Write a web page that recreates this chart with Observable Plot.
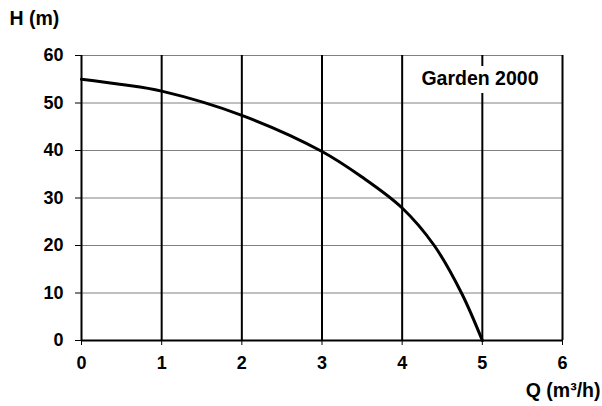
<!DOCTYPE html>
<html>
<head>
<meta charset="utf-8">
<script src="https://cdn.jsdelivr.net/npm/d3@7"></script>
<script src="https://cdn.jsdelivr.net/npm/@observablehq/plot@0.6"></script>
<style>
  html, body { margin: 0; padding: 0; background: #fff; }
</style>
</head>
<body>
<div id="chart"></div>
<script>
const flowQ = [0, 0.5, 1, 2, 3, 3.5, 4, 4.4, 4.74, 5];
const headH = [55, 53.9, 52.5, 47.4, 39.8, 34.4, 27.9, 20, 10, 0];
const xTicks = [0, 1, 2, 3, 4, 5, 6];
const yTicks = [0, 10, 20, 30, 40, 50, 60];
const modelName = "Garden 2000";
const yTitle = "H (m)";
const xTitle = "Q (m³/h)";

const curve = flowQ.map((q, i) => ({q, h: headH[i]}));
const font = "'Liberation Sans', Arial, sans-serif";

const chart = Plot.plot({
  width: 602,
  height: 406,
  marginLeft: 81,
  marginRight: 40,
  marginTop: 55,
  marginBottom: 66,
  style: {fontFamily: font, fontWeight: "bold", fontSize: "18px", color: "#000", background: "#fff"},
  x: {domain: [0, 6], ticks: xTicks},
  y: {domain: [0, 60], ticks: yTicks},
  marks: [
    Plot.ruleY(yTicks.filter(d => d > 0), {stroke: "#808080", strokeWidth: 1}),
    Plot.ruleX(xTicks.filter(d => d > 0), {stroke: "#000", strokeWidth: 2}),
    Plot.ruleX([0], {stroke: "#000", strokeWidth: 2}),
    Plot.ruleY([0], {stroke: "#000", strokeWidth: 2}),
    Plot.axisY({ticks: yTicks, tickSize: 6, tickPadding: 12, tickFormat: "d", label: null, stroke: "#000", fill: "#000", fontSize: 18}),
    Plot.axisX({ticks: xTicks, tickSize: 5, tickPadding: 11, tickFormat: "d", label: null, stroke: "#000", fill: "#000", fontSize: 18}),
    Plot.line(curve, {x: "q", y: "h", curve: "catmull-rom", stroke: "#000", strokeWidth: 3}),
    Plot.text([modelName], {frameAnchor: "top-right", dx: -24, dy: 23, textAnchor: "end", lineAnchor: "middle",
      fill: "#000", stroke: "#fff", strokeWidth: 16, fontSize: 19.5, fontWeight: "bold"}),
    Plot.text([yTitle], {frameAnchor: "top-left", dx: -72, dy: -37, textAnchor: "start", lineAnchor: "middle",
      fill: "#000", fontSize: 19.5, fontWeight: "bold"}),
    Plot.text([xTitle], {frameAnchor: "bottom-right", dx: 38, dy: 50, textAnchor: "end", lineAnchor: "middle",
      fill: "#000", fontSize: 19.5, fontWeight: "bold"})
  ]
});
document.getElementById("chart").appendChild(chart);
</script>
</body>
</html>
